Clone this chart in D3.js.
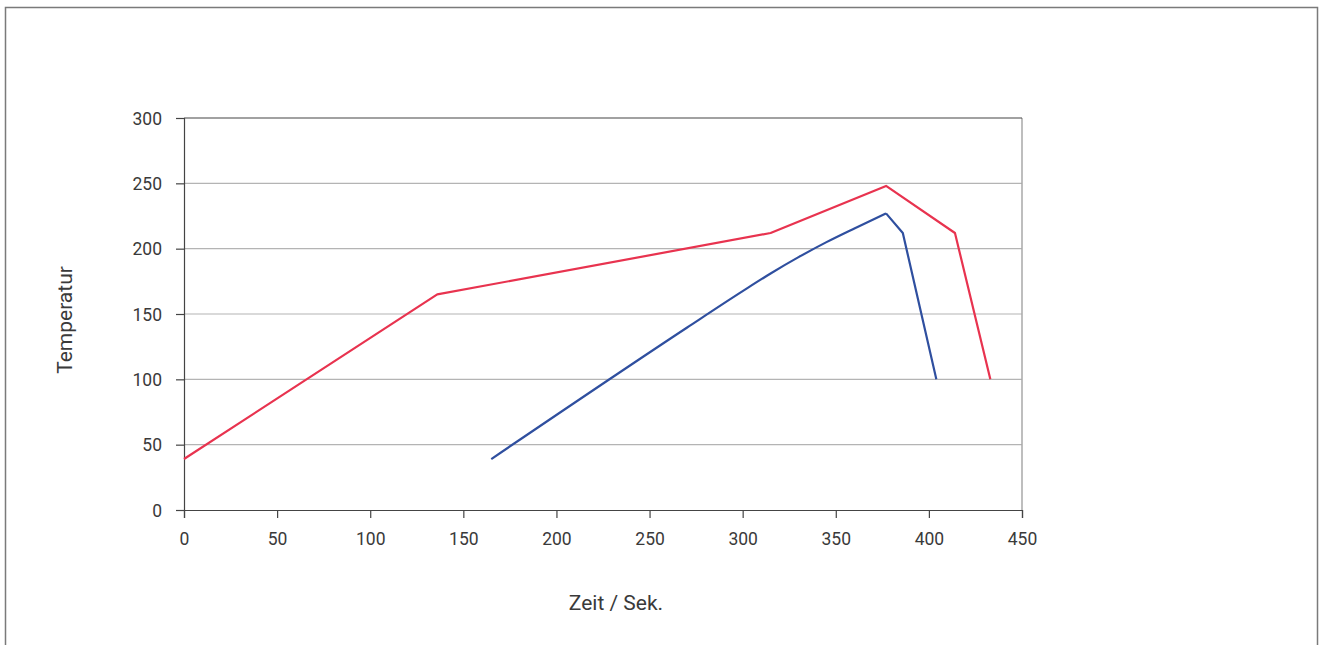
<!DOCTYPE html>
<meta charset="utf-8">
<style>
body { margin: 0; background: #fff; }
svg { display: block; }
.tick text { font: 17.5px Roboto, "DejaVu Sans", sans-serif; fill: #3a3a3a; }
.axis-title { font: 21px Roboto, "DejaVu Sans", sans-serif; fill: #3a3a3a; }
.grid line { stroke: #b4b4b4; stroke-width: 1.2; }
.line { fill: none; stroke-width: 2.2; stroke-linejoin: round; }
</style>
<body>
<script src="https://d3js.org/d3.v7.min.js"></script>
<script>

// Temperaturkurven (Zeit in Sek., Temperatur)
var redTime = [0, 136, 315, 377, 414, 433],
    redTemp = [39, 165, 212, 248, 212, 100];

// blue: rising part is smooth, falling part straight
var blueRiseTime = [165, 270, 300, 315, 330, 345, 360, 377],
    blueRiseTemp = [39, 139.5, 167.5, 181, 193.5, 205, 215.5, 227];
var blueFallTime = [377, 386, 404],
    blueFallTemp = [227, 212, 100];

var xTicks = [0, 50, 100, 150, 200, 250, 300, 350, 400, 450],
    yTicks = [0, 50, 100, 150, 200, 250, 300];

var width = 1322, height = 645;

var svg = d3.select("body").append("svg")
    .attr("width", width)
    .attr("height", height);

// outer frame
svg.append("rect")
    .attr("x", 5.5).attr("y", 7.5)
    .attr("width", 1312).attr("height", 700)
    .attr("fill", "none")
    .attr("stroke", "#7a7a7a")
    .attr("stroke-width", 1.5);

var x = d3.scaleLinear().domain([0, 450]).range([184, 1022]),
    y = d3.scaleLinear().domain([0, 300]).range([510, 118]);

// gridlines
svg.append("g")
    .attr("class", "grid")
  .selectAll("line")
  .data(yTicks.filter(function(d) { return d > 0 && d < 300; }))
  .enter().append("line")
    .attr("x1", x(0)).attr("x2", x(450))
    .attr("y1", function(d) { return y(d); })
    .attr("y2", function(d) { return y(d); });

// right edge of plot
svg.append("line")
    .attr("x1", x(450)).attr("x2", x(450))
    .attr("y1", y(300)).attr("y2", y(0))
    .attr("stroke", "#a8a8a8").attr("stroke-width", 1.5);

// top line
svg.append("line")
    .attr("x1", x(0)).attr("x2", x(450))
    .attr("y1", y(300)).attr("y2", y(300))
    .attr("stroke", "#444").attr("stroke-width", 1.2);

var xAxis = svg.append("g")
    .attr("transform", "translate(0," + y(0) + ")")
    .call(d3.axisBottom(x).tickValues(xTicks).tickSize(8).tickPadding(15));

var yAxis = svg.append("g")
    .attr("transform", "translate(" + x(0) + ",0)")
    .call(d3.axisLeft(y).tickValues(yTicks).tickSize(8).tickPadding(14));

[xAxis, yAxis].forEach(function(a) {
  a.select(".domain").attr("stroke", "#444").attr("stroke-width", 1.2);
  a.selectAll(".tick line").attr("stroke", "#444").attr("stroke-width", 1.2);
});
yAxis.selectAll(".tick text").attr("dy", "0.35em");

var line = d3.line()
    .x(function(d) { return x(d[0]); })
    .y(function(d) { return y(d[1]); });

var smooth = d3.line()
    .curve(d3.curveMonotoneX)
    .x(function(d) { return x(d[0]); })
    .y(function(d) { return y(d[1]); });

svg.append("path")
    .datum(d3.zip(redTime, redTemp))
    .attr("class", "line")
    .attr("stroke", "#e8334f")
    .attr("d", line);

svg.append("path")
    .datum(d3.zip(blueRiseTime, blueRiseTemp))
    .attr("class", "line")
    .attr("stroke", "#2f4f9f")
    .attr("d", smooth);

svg.append("path")
    .datum(d3.zip(blueFallTime, blueFallTemp))
    .attr("class", "line")
    .attr("stroke", "#2f4f9f")
    .attr("d", line);

svg.append("text")
    .attr("class", "axis-title")
    .attr("x", 616).attr("y", 610)
    .attr("text-anchor", "middle")
    .text("Zeit / Sek.");

svg.append("text")
    .attr("class", "axis-title")
    .attr("transform", "translate(72,320)rotate(-90)")
    .attr("text-anchor", "middle")
    .text("Temperatur");

</script>
